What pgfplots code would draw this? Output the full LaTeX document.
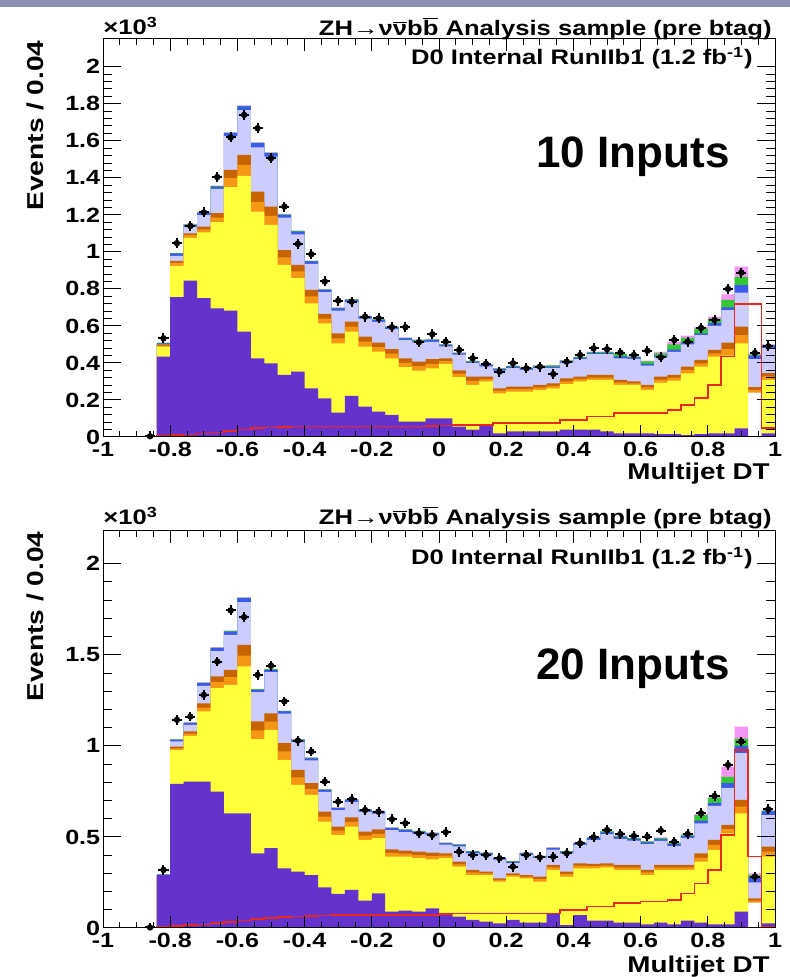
\documentclass[border=0pt]{standalone}
\usepackage{pgfplots}
\pgfplotsset{compat=1.18}
\usepackage{pgfplotstable}
\usepackage{fontspec}
\setmainfont{Liberation Sans}[FakeStretch=1.22]
\newfontfamily\inputsfont{Liberation Sans}

\definecolor{qcd}{RGB}{100,50,205}
\definecolor{wjet}{RGB}{255,255,60}
\definecolor{orng}{RGB}{245,150,20}
\definecolor{dkorng}{RGB}{200,100,0}
\definecolor{lav}{RGB}{204,204,255}
\definecolor{blu}{RGB}{60,90,235}
\definecolor{grn}{RGB}{50,200,50}
\definecolor{pnk}{RGB}{245,150,245}
\definecolor{sigred}{RGB}{235,40,30}
\definecolor{slide}{RGB}{140,144,180}

% cumulative stack tops per bin (units of 10^3 events), bin left edge in x
\pgfplotstableread{
x pu ye or dk la bl gr pk dat sig
-1.00 0 0 0 0 0 0 0 0 nan 0
-0.96 0 0 0 0 0 0 0 0 nan 0
-0.92 0 0 0 0 0 0 0 0 nan 0
-0.88 0 0 0 0 0 0 0 0.002 0.004 0.002
-0.84 0.434 0.488 0.494 0.500 0.500 0.506 0.508 0.510 0.533 0.006
-0.80 0.755 0.925 0.940 0.952 0.978 0.990 0.993 0.995 1.047 0.010
-0.76 0.845 1.075 1.090 1.100 1.134 1.146 1.149 1.151 1.140 0.014
-0.72 0.750 1.105 1.122 1.137 1.198 1.210 1.213 1.215 1.213 0.019
-0.68 0.695 1.160 1.185 1.209 1.340 1.353 1.356 1.358 1.404 0.025
-0.64 0.683 1.350 1.400 1.443 1.625 1.641 1.644 1.646 1.618 0.032
-0.60 0.569 1.410 1.470 1.524 1.765 1.786 1.789 1.791 1.740 0.040
-0.56 0.425 1.218 1.270 1.326 1.565 1.587 1.590 1.592 1.668 0.047
-0.52 0.398 1.146 1.195 1.245 1.515 1.533 1.536 1.538 1.506 0.052
-0.48 0.335 0.930 0.970 1.010 1.185 1.200 1.203 1.205 1.245 0.054
-0.44 0.353 0.858 0.895 0.930 1.095 1.110 1.113 1.115 1.043 0.056
-0.40 0.263 0.722 0.760 0.795 0.935 0.948 0.951 0.953 0.987 0.056
-0.36 0.209 0.614 0.640 0.665 0.783 0.795 0.798 0.800 0.840 0.056
-0.32 0.131 0.506 0.533 0.560 0.683 0.695 0.698 0.700 0.737 0.056
-0.28 0.222 0.569 0.596 0.623 0.728 0.740 0.743 0.745 0.731 0.056
-0.24 0.164 0.488 0.515 0.542 0.640 0.650 0.653 0.655 0.650 0.056
-0.20 0.137 0.461 0.485 0.510 0.622 0.632 0.635 0.637 0.641 0.056
-0.16 0.119 0.425 0.450 0.474 0.583 0.593 0.596 0.598 0.593 0.056
-0.12 0.083 0.377 0.400 0.425 0.523 0.533 0.536 0.538 0.593 0.056
-0.08 0.083 0.359 0.383 0.407 0.511 0.521 0.524 0.526 0.512 0.056
-0.04 0.100 0.371 0.395 0.420 0.514 0.524 0.527 0.530 0.555 0.058
0.00 0.100 0.395 0.410 0.425 0.490 0.497 0.500 0.502 0.515 0.062
0.04 0.056 0.323 0.342 0.360 0.445 0.452 0.455 0.457 0.470 0.065
0.08 0.040 0.281 0.303 0.326 0.400 0.407 0.410 0.412 0.425 0.065
0.12 0.065 0.300 0.313 0.326 0.382 0.389 0.392 0.394 0.395 0.065
0.16 0.020 0.236 0.250 0.263 0.358 0.366 0.370 0.372 0.353 0.074
0.20 0.030 0.245 0.258 0.272 0.372 0.380 0.384 0.386 0.398 0.074
0.24 0.030 0.245 0.258 0.272 0.363 0.371 0.375 0.377 0.371 0.074
0.28 0.030 0.254 0.268 0.281 0.372 0.380 0.385 0.387 0.380 0.074
0.32 0.030 0.263 0.276 0.290 0.372 0.380 0.387 0.390 0.340 0.074
0.36 0.040 0.286 0.300 0.317 0.402 0.410 0.414 0.416 0.407 0.092
0.40 0.040 0.300 0.313 0.326 0.420 0.428 0.432 0.434 0.443 0.092
0.44 0.040 0.308 0.321 0.335 0.447 0.455 0.459 0.461 0.479 0.110
0.48 0.030 0.308 0.321 0.335 0.447 0.455 0.459 0.461 0.474 0.110
0.52 0.020 0.281 0.295 0.308 0.425 0.435 0.448 0.452 0.456 0.128
0.56 0.020 0.281 0.290 0.300 0.422 0.430 0.434 0.436 0.443 0.128
0.60 0.020 0.254 0.268 0.281 0.385 0.395 0.408 0.412 0.466 0.130
0.64 0.015 0.294 0.310 0.326 0.430 0.440 0.452 0.460 0.430 0.130
0.68 0.015 0.305 0.320 0.335 0.460 0.472 0.500 0.515 0.524 0.146
0.72 0.010 0.344 0.362 0.380 0.500 0.510 0.535 0.547 0.515 0.173
0.76 0.015 0.380 0.398 0.416 0.550 0.560 0.585 0.595 0.589 0.209
0.80 0.020 0.434 0.452 0.470 0.600 0.615 0.640 0.650 0.632 0.281
0.84 0.020 0.440 0.475 0.510 0.685 0.700 0.740 0.770 0.800 0.434
0.88 0.047 0.506 0.550 0.596 0.780 0.820 0.865 0.920 0.888 0.720
0.92 0 0 0.255 0.270 0.420 0.440 0.445 0.450 0.454 0.720
0.96 0.020 0.308 0.327 0.345 0.480 0.495 0.497 0.500 0.490 0.047
1.00 0.020 0.308 0.327 0.345 0.480 0.495 0.497 0.500 nan 0.047
}\tabten

\pgfplotstableread{
x pu ye or dk la bl gr pk dat sig
-1.00 0 0 0 0 0 0 0 0 nan 0
-0.96 0 0 0 0 0 0 0 0 nan 0
-0.92 0 0 0 0 0 0 0 0 nan 0
-0.88 0 0 0 0 0 0 0 0.002 0.003 0.002
-0.84 0.291 0.291 0.291 0.291 0.291 0.293 0.294 0.295 0.319 0.005
-0.80 0.791 0.978 0.987 0.996 1.025 1.033 1.036 1.038 1.143 0.010
-0.76 0.804 1.055 1.067 1.079 1.115 1.125 1.128 1.130 1.161 0.015
-0.72 0.804 1.189 1.210 1.234 1.330 1.344 1.347 1.349 1.280 0.020
-0.68 0.749 1.317 1.350 1.381 1.520 1.537 1.540 1.542 1.463 0.026
-0.64 0.630 1.335 1.377 1.418 1.610 1.628 1.631 1.633 1.744 0.034
-0.60 0.630 1.436 1.495 1.555 1.790 1.811 1.814 1.816 1.707 0.042
-0.56 0.410 1.037 1.085 1.134 1.295 1.308 1.311 1.313 1.390 0.050
-0.52 0.438 1.088 1.133 1.179 1.405 1.418 1.421 1.423 1.440 0.055
-0.48 0.328 0.923 0.970 1.015 1.177 1.189 1.192 1.194 1.244 0.060
-0.44 0.310 0.786 0.827 0.868 1.020 1.033 1.036 1.038 1.029 0.063
-0.40 0.291 0.731 0.763 0.795 0.920 0.932 0.935 0.937 0.969 0.066
-0.36 0.223 0.584 0.611 0.639 0.747 0.758 0.761 0.763 0.804 0.068
-0.32 0.187 0.511 0.534 0.557 0.647 0.658 0.661 0.663 0.694 0.070
-0.28 0.209 0.557 0.583 0.608 0.692 0.703 0.706 0.708 0.707 0.070
-0.24 0.150 0.484 0.507 0.529 0.637 0.648 0.651 0.653 0.648 0.070
-0.20 0.190 0.493 0.517 0.542 0.628 0.639 0.642 0.644 0.639 0.070
-0.16 0.090 0.392 0.412 0.432 0.537 0.548 0.551 0.553 0.597 0.070
-0.12 0.095 0.392 0.408 0.425 0.527 0.538 0.541 0.543 0.575 0.070
-0.08 0.090 0.383 0.400 0.419 0.518 0.529 0.532 0.534 0.520 0.070
-0.04 0.108 0.377 0.395 0.414 0.510 0.520 0.523 0.525 0.510 0.072
0.00 0.080 0.383 0.397 0.410 0.458 0.465 0.468 0.470 0.526 0.078
0.04 0.062 0.337 0.350 0.364 0.448 0.456 0.459 0.461 0.419 0.080
0.08 0.044 0.291 0.305 0.319 0.410 0.419 0.422 0.424 0.401 0.080
0.12 0.035 0.291 0.300 0.310 0.401 0.410 0.413 0.415 0.401 0.080
0.16 0.025 0.255 0.264 0.273 0.375 0.383 0.386 0.388 0.383 0.080
0.20 0.044 0.282 0.291 0.300 0.356 0.364 0.367 0.369 0.337 0.080
0.24 0.030 0.273 0.282 0.291 0.402 0.410 0.413 0.415 0.401 0.080
0.28 0.030 0.255 0.268 0.282 0.384 0.392 0.395 0.397 0.388 0.080
0.32 0.080 0.319 0.333 0.346 0.430 0.438 0.441 0.443 0.392 0.080
0.36 0.016 0.282 0.296 0.310 0.410 0.419 0.422 0.424 0.410 0.099
0.40 0.071 0.328 0.342 0.355 0.455 0.465 0.468 0.470 0.465 0.099
0.44 0.040 0.328 0.340 0.352 0.483 0.493 0.497 0.499 0.498 0.117
0.48 0.040 0.333 0.344 0.355 0.515 0.525 0.532 0.535 0.538 0.117
0.52 0.030 0.319 0.333 0.346 0.490 0.500 0.505 0.508 0.516 0.136
0.56 0.030 0.319 0.333 0.346 0.480 0.490 0.494 0.496 0.505 0.136
0.60 0.020 0.291 0.305 0.319 0.460 0.470 0.476 0.478 0.502 0.145
0.64 0.030 0.319 0.333 0.346 0.478 0.488 0.494 0.497 0.535 0.145
0.68 0.020 0.319 0.333 0.346 0.450 0.460 0.466 0.469 0.474 0.155
0.72 0.040 0.319 0.333 0.346 0.495 0.505 0.512 0.515 0.516 0.190
0.76 0.030 0.364 0.387 0.410 0.575 0.590 0.620 0.625 0.630 0.245
0.80 0.020 0.429 0.456 0.484 0.670 0.685 0.715 0.722 0.725 0.319
0.84 0.020 0.520 0.543 0.566 0.770 0.795 0.830 0.886 0.896 0.510
0.88 0.090 0.630 0.667 0.703 0.960 1.000 1.040 1.106 1.024 0.978
0.92 0 0 0.150 0.163 0.250 0.280 0.290 0.300 0.282 0.392
0.96 0.026 0.392 0.420 0.447 0.620 0.640 0.645 0.648 0.652 0.005
1.00 0.026 0.392 0.420 0.447 0.620 0.640 0.645 0.648 nan 0.005
}\tabtwenty

\pgfplotsset{
  rootax/.style={
    scale only axis, width=336pt, xmin=-1, xmax=1, ymin=0,
    axis on top, axis line style={line width=0.5pt},
    xtick={-1,-0.8,-0.6,-0.4,-0.2,0,0.2,0.4,0.6,0.8,1},
    xticklabels={-1,-0.8,-0.6,-0.4,-0.2,0,0.2,0.4,0.6,0.8,1},
    minor x tick num=3, tick align=inside,
    xtick style={/pgfplots/major tick length=6pt,/pgfplots/minor tick length=3pt,line width=0.5pt,black},
    ytick style={/pgfplots/major tick length=9pt,/pgfplots/minor tick length=4.5pt,line width=0.5pt,black},
    ticklabel style={font=\fontsize{10.3}{12}\selectfont\bfseries},
    yticklabel style={inner sep=1.2pt},
    xticklabel style={inner sep=2.5pt},
  },
  stk/.style={const plot, draw=none, fill=#1, forget plot},
  sigline/.style={const plot, draw=sigred, line width=0.8pt},
  datpts/.style={only marks, mark=*, mark size=1.4pt, black,
    error bars/.cd, x dir=both, x fixed=0.015, y dir=both, y fixed=0.027,
    error mark=none, error bar style={line width=1pt, black}},
}

% #1 table, #2 height of the empty (white) part of the 0.92-0.96 bin
\newcommand{\stackfrom}[2]{%
  \addplot[stk=pnk] table[x=x,y=pk]{#1} \closedcycle;
  \addplot[stk=grn] table[x=x,y=gr]{#1} \closedcycle;
  \addplot[stk=blu] table[x=x,y=bl]{#1} \closedcycle;
  \addplot[stk=lav] table[x=x,y=la]{#1} \closedcycle;
  \addplot[stk=dkorng] table[x=x,y=dk]{#1} \closedcycle;
  \addplot[stk=orng] table[x=x,y=or]{#1} \closedcycle;
  \addplot[stk=white] coordinates {(0.92,#2) (0.96,#2)} \closedcycle;
  \addplot[stk=wjet] table[x=x,y=ye]{#1} \closedcycle;
  \addplot[stk=qcd] table[x=x,y=pu]{#1} \closedcycle;
  \addplot[sigline] table[x=x,y=sig]{#1};
  \addplot[datpts] table[x expr=\thisrow{x}+0.02,y=dat]{#1};
}

\newcommand{\rtext}{\fontsize{10.5}{12}\selectfont\bfseries}
\newcommand{\ttl}{ZH\textrightarrow ν$\overline{\mbox{ν}}$b$\overline{\mbox{b}}$ Analysis sample (pre btag)}

\begin{document}
\begin{tikzpicture}[x=1pt,y=1pt]
\useasboundingbox (0,0) rectangle (395,488.5);
\fill[white] (0,0) rectangle (395,488.5);
\fill[slide] (0,485) rectangle (395,488.5);

% ---- top panel: 10 inputs
\begin{axis}[rootax, at={(51.5pt,270pt)}, anchor=south west, height=199pt,
    ymax=2.15, ytick={0,0.2,0.4,0.6,0.8,1,1.2,1.4,1.6,1.8,2},
    yticklabels={0,0.2,0.4,0.6,0.8,1,1.2,1.4,1.6,1.8,2}, minor y tick num=4]
\stackfrom{\tabten}{0.240}
\end{axis}

% ---- bottom panel: 20 inputs
\begin{axis}[rootax, at={(51.5pt,24.5pt)}, anchor=south west, height=198.5pt,
    ymax=2.18, ytick={0,0.5,1,1.5,2}, yticklabels={0,0.5,1,1.5,2},
    minor y tick num=4]
\stackfrom{\tabtwenty}{0.140}
\end{axis}

% labels, top
\node[anchor=base west, inner sep=0] at (51.5,471) {\rtext ×10\textsuperscript{3}};
\node[anchor=base east, inner sep=0] at (386,470.5) {\rtext\ttl};
\node[anchor=base east, inner sep=0] at (376.5,456) {\rtext D0 Internal RunIIb1 (1.2 fb\textsuperscript{-1})};
\node[anchor=base east, inner sep=0] at (365,404.5) {\inputsfont\fontsize{22}{24}\selectfont\bfseries 10 Inputs};
\node[anchor=base east, inner sep=0] at (385,248.5) {\fontsize{11.4}{13}\selectfont\bfseries Multijet DT};
\node[rotate=90, anchor=east, inner sep=0] at (17.5,468.5) {\fontsize{11.5}{13}\selectfont\bfseries Events / 0.04};

% labels, bottom
\node[anchor=base west, inner sep=0] at (51.5,226) {\rtext ×10\textsuperscript{3}};
\node[anchor=base east, inner sep=0] at (386,226) {\rtext\ttl};
\node[anchor=base east, inner sep=0] at (376.5,206) {\rtext D0 Internal RunIIb1 (1.2 fb\textsuperscript{-1})};
\node[anchor=base east, inner sep=0] at (365,148.5) {\inputsfont\fontsize{22}{24}\selectfont\bfseries 20 Inputs};
\node[anchor=base east, inner sep=0] at (385,2) {\fontsize{11.4}{13}\selectfont\bfseries Multijet DT};
\node[rotate=90, anchor=east, inner sep=0] at (17.5,223) {\fontsize{11.5}{13}\selectfont\bfseries Events / 0.04};
\end{tikzpicture}
\end{document}
